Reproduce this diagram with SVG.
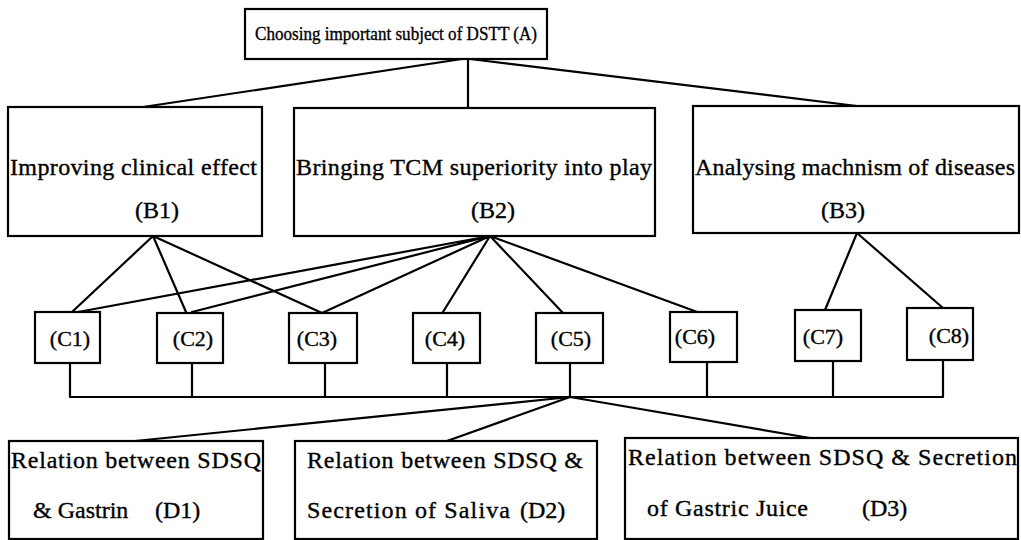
<svg xmlns="http://www.w3.org/2000/svg" width="1021" height="540" viewBox="0 0 1021 540">
<style>
.box{fill:#fff;stroke:#000;stroke-width:2.2}
.t{font-family:"Liberation Serif","Times New Roman",serif;font-size:24px;fill:#000;stroke:#000;stroke-width:0.35}
.s{font-size:22px}
.a{font-size:19px}
.c{text-anchor:middle}
.ln{stroke:#000;stroke-width:2.2;fill:none;stroke-linecap:round}
</style>
<rect width="1021" height="540" fill="#fff"/>
<g id="connectors">
<path class="ln" d="M462 59L143 107M468 59V108M470 59L857 106"/>
<path class="ln" d="M153 236L72 312M153 236L186 312M153 236L322 313"/>
<path class="ln" d="M490 236L78 312M490 236L192 312M490 236L322 313M490 236L443 312M490 236L563 313M490 236L700 313"/>
<path class="ln" d="M857 233L825 310M857 233L943 308"/>
<path class="ln" d="M70 363V397M192 363V397M325 363V397M447 363V397M570 363V397M707 362V397M833 361V397M943 360V397M70 397H943"/>
<path class="ln" d="M570 397L135 441M570 397L447 441M570 397L810 438"/>
</g>
<g id="A"><rect class="box" x="245" y="9" width="302" height="50"/><text class="t a" x="255" y="40" textLength="282" lengthAdjust="spacingAndGlyphs">Choosing important subject of DSTT (A)</text></g>
<g id="B1"><rect class="box" x="8" y="107" width="254" height="129"/><text class="t" x="10" y="175" textLength="247" lengthAdjust="spacing">Improving clinical effect</text><text class="t c" x="157" y="218">(B1)</text></g>
<g id="B2"><rect class="box" x="294" y="108" width="361" height="128"/><text class="t" x="296" y="175" textLength="356" lengthAdjust="spacing">Bringing TCM superiority into play</text><text class="t c" x="493" y="218">(B2)</text></g>
<g id="B3"><rect class="box" x="693" y="106" width="326" height="127"/><text class="t" x="695" y="175" textLength="320" lengthAdjust="spacing">Analysing machnism of diseases</text><text class="t c" x="843" y="218">(B3)</text></g>
<g id="C1"><rect class="box" x="35" y="312" width="65" height="51"/><text class="t s c" x="70" y="346">(C1)</text></g>
<g id="C2"><rect class="box" x="157" y="313" width="66" height="50"/><text class="t s c" x="193" y="346">(C2)</text></g>
<g id="C3"><rect class="box" x="289" y="313" width="68" height="50"/><text class="t s c" x="317" y="346">(C3)</text></g>
<g id="C4"><rect class="box" x="413" y="313" width="67" height="50"/><text class="t s c" x="445" y="346">(C4)</text></g>
<g id="C5"><rect class="box" x="536" y="313" width="67" height="50"/><text class="t s c" x="571" y="346">(C5)</text></g>
<g id="C6"><rect class="box" x="670" y="312" width="67" height="50"/><text class="t s c" x="695" y="344">(C6)</text></g>
<g id="C7"><rect class="box" x="795" y="310" width="66" height="51"/><text class="t s c" x="823" y="344">(C7)</text></g>
<g id="C8"><rect class="box" x="907" y="308" width="66" height="52"/><text class="t s c" x="949" y="343">(C8)</text></g>
<g id="D1"><rect class="box" x="9" y="441" width="254" height="98"/><text class="t" x="11" y="468" textLength="250" lengthAdjust="spacing">Relation between SDSQ</text><text class="t" x="33" y="518">&amp; Gastrin</text><text class="t" x="155" y="518">(D1)</text></g>
<g id="D2"><rect class="box" x="295" y="441" width="302" height="98"/><text class="t" x="307" y="468" textLength="276" lengthAdjust="spacing">Relation between SDSQ &amp;</text><text class="t" x="307" y="518" textLength="203" lengthAdjust="spacing">Secretion of Saliva</text><text class="t" x="520" y="518">(D2)</text></g>
<g id="D3"><rect class="box" x="625" y="438" width="393" height="101"/><text class="t" x="628" y="465" textLength="389" lengthAdjust="spacing">Relation between SDSQ &amp; Secretion</text><text class="t" x="647" y="516" textLength="161" lengthAdjust="spacing">of Gastric Juice</text><text class="t" x="862" y="516">(D3)</text></g>
</svg>
